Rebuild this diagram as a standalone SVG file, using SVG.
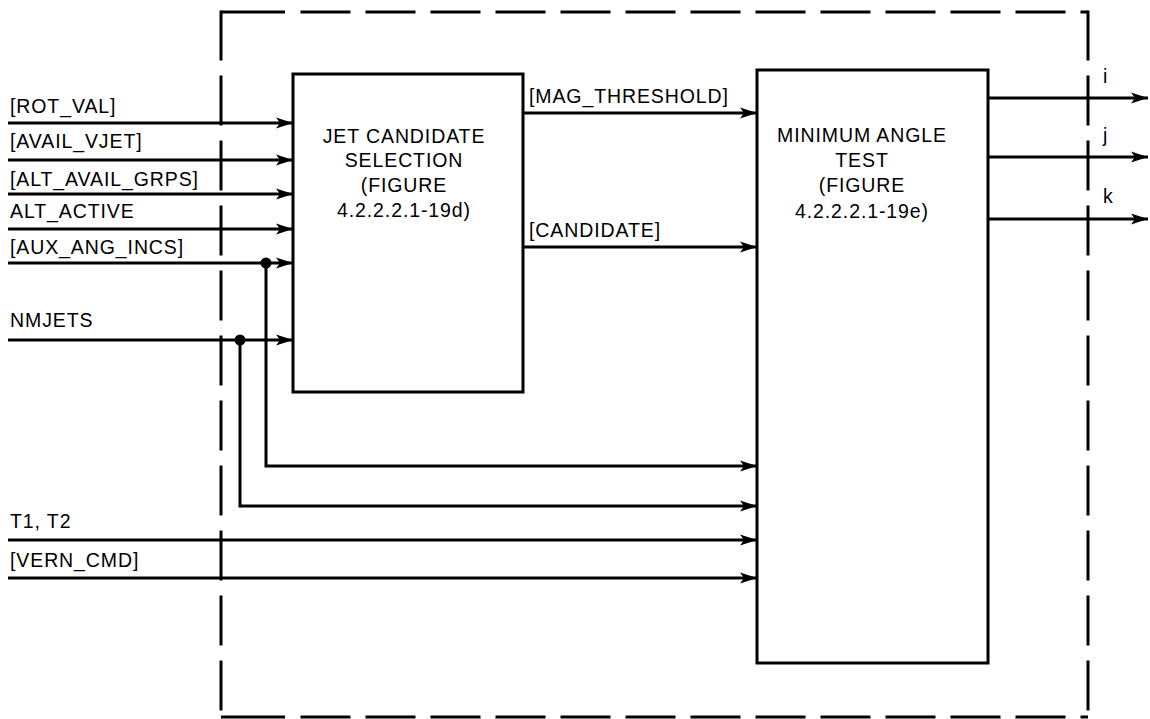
<svg xmlns="http://www.w3.org/2000/svg" width="1150" height="719" viewBox="0 0 1150 719">
<style>
text{font-family:"Liberation Sans",Arial,sans-serif;font-size:19.5px;letter-spacing:0.9px;fill:#000}
.c{text-anchor:middle}
.ln{stroke:#000;stroke-width:3;fill:none}
.ar{stroke:#000;stroke-width:3;fill:none;marker-end:url(#ah)}
.box{stroke:#000;stroke-width:3;fill:#fff}
.dash{stroke:#000;stroke-width:3;fill:none;stroke-dasharray:50 15}
</style>
<defs>
<marker id="ah" markerUnits="userSpaceOnUse" markerWidth="18" markerHeight="12" viewBox="0 0 18 12" refX="17" refY="6" orient="auto">
<path d="M0,0.5 L17,6 L0,11.5 L4,6 z" fill="#000"/>
</marker>
</defs>
<rect width="1150" height="719" fill="#fff"/>
<g id="boundary">
<line class="ln" x1="221" y1="12" x2="285" y2="12"/>
<line class="dash" x1="300.5" y1="12" x2="1088" y2="12"/>
<line class="ln" x1="221" y1="717" x2="285" y2="717"/>
<line class="dash" x1="300.5" y1="717" x2="1088" y2="717"/>
<line class="dash" x1="221" y1="10.5" x2="221" y2="718.5"/>
<line class="dash" x1="1088" y1="10.5" x2="1088" y2="718.5"/>
</g>
<g id="connectors">
<line class="ar" x1="8" y1="123" x2="293" y2="123"/>
<line class="ar" x1="8" y1="160" x2="293" y2="160"/>
<line class="ar" x1="8" y1="194" x2="293" y2="194"/>
<line class="ar" x1="8" y1="229" x2="293" y2="229"/>
<line class="ar" x1="8" y1="263" x2="293" y2="263"/>
<line class="ar" x1="8" y1="340" x2="293" y2="340"/>
<polyline class="ar" points="266,263 266,466 757,466"/>
<polyline class="ar" points="240,340 240,506 757,506"/>
<circle cx="266" cy="263" r="5.5" fill="#000"/>
<circle cx="240" cy="340" r="5.5" fill="#000"/>
<line class="ar" x1="8" y1="540" x2="757" y2="540"/>
<line class="ar" x1="8" y1="578" x2="757" y2="578"/>
<line class="ar" x1="523" y1="113" x2="757" y2="113"/>
<line class="ar" x1="523" y1="247" x2="757" y2="247"/>
<line class="ar" x1="988" y1="98" x2="1148" y2="98"/>
<line class="ar" x1="988" y1="157" x2="1148" y2="157"/>
<line class="ar" x1="988" y1="219" x2="1148" y2="219"/>
<text x="10" y="113">[ROT_VAL]</text>
<text x="10" y="148">[AVAIL_VJET]</text>
<text x="10" y="186">[ALT_AVAIL_GRPS]</text>
<text x="10" y="218">ALT_ACTIVE</text>
<text x="10" y="254">[AUX_ANG_INCS]</text>
<text x="10" y="327">NMJETS</text>
<text x="10" y="528">T1, T2</text>
<text x="10" y="567">[VERN_CMD]</text>
<text x="529" y="103">[MAG_THRESHOLD]</text>
<text x="529" y="237">[CANDIDATE]</text>
<text x="1103" y="83">i</text>
<text x="1103" y="142">j</text>
<text x="1103" y="203">k</text>
</g>
<g id="jet-candidate-selection">
<rect class="box" x="293" y="74" width="230" height="318"/>
<text class="c" x="404" y="143">JET CANDIDATE</text>
<text class="c" x="404" y="167">SELECTION</text>
<text class="c" x="404" y="192">(FIGURE</text>
<text class="c" x="404" y="217">4.2.2.2.1-19d)</text>
</g>
<g id="minimum-angle-test">
<rect class="box" x="757" y="70" width="231" height="593"/>
<text class="c" x="862" y="142">MINIMUM ANGLE</text>
<text class="c" x="862" y="167">TEST</text>
<text class="c" x="862" y="192">(FIGURE</text>
<text class="c" x="862" y="218">4.2.2.2.1-19e)</text>
</g>
</svg>
